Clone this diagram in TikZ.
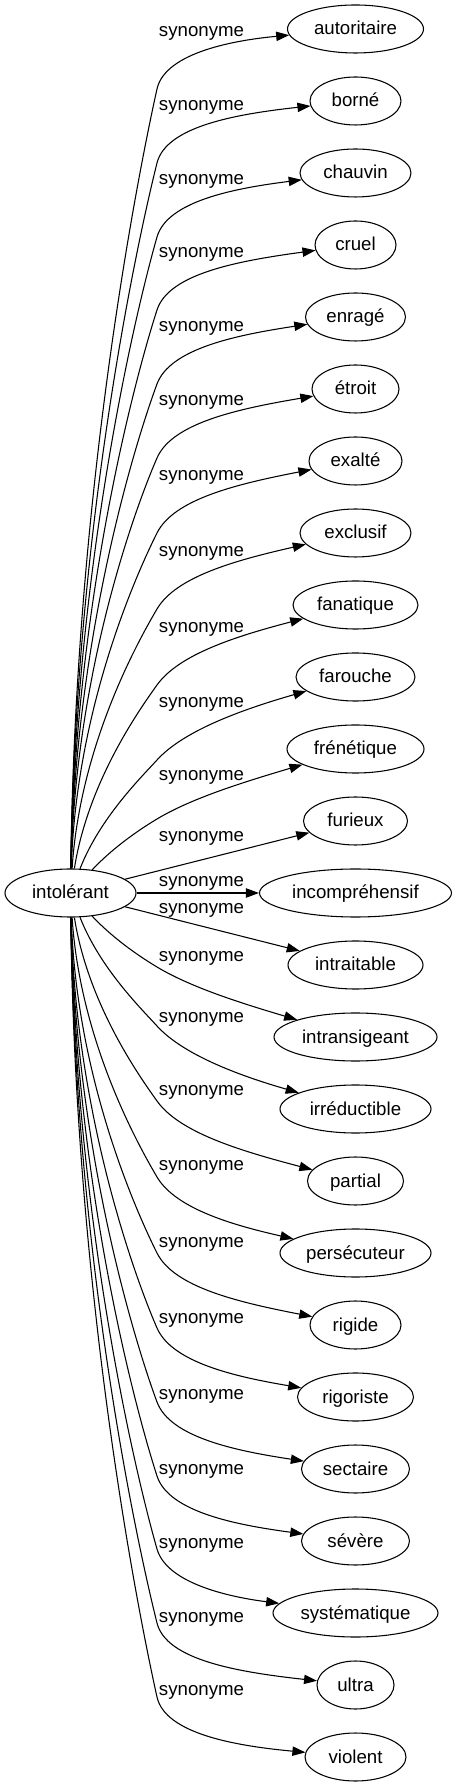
\documentclass[tikz,border=0pt]{standalone}
\usepackage{fontspec}
\setmainfont{Liberation Sans}
\usetikzlibrary{shapes.geometric,arrows.meta}
% #1 target, #2 sign (1 up / -1 down), #3 |Y| of bend point, #4 slope there, #5 x of first control, #6 offset of last control
\newcommand{\synedge}[6]{%
  \pgfmathsetmacro{\sehh}{#3-24}%
  \pgfmathsetmacro{\seLtwo}{0.12*\sehh+10}%
  \pgfmathsetmacro{\senrm}{sqrt(1+(#4)*(#4))}%
  \pgfmathsetmacro{\seAx}{157-\seLtwo/\senrm}%
  \pgfmathsetmacro{\seAy}{(#2)*(#3-\seLtwo*(#4)/\senrm)}%
  \pgfmathsetmacro{\seBx}{157+38/\senrm}%
  \pgfmathsetmacro{\seBy}{(#2)*(#3+38*(#4)/\senrm)}%
  \pgfmathsetmacro{\seCy}{(#2)*(24+0.47*\sehh)}%
  \pgfmathsetmacro{\seDy}{(#2)*(#3+#6)}%
  \pgfmathsetmacro{\sePy}{(#2)*(#3)}%
  \draw[syn] (src) .. controls (#5,\seCy) and (\seAx,\seAy) .. (157,\sePy) .. controls (\seBx,\seBy) and (237,\seDy) .. (#1);%
}
\begin{document}
\begin{tikzpicture}[x=0.75pt,y=0.75pt,
  ell/.style={draw, ellipse, inner sep=0pt, minimum height=36pt, line width=0.8pt,
    text height=11pt, text depth=2pt, font=\fontsize{14}{17}\selectfont},
  tnode/.style={ell, minimum width=#1*0.75pt},
  lab/.style={anchor=base, inner sep=0pt, font=\fontsize{14}{17}\selectfont},
  syn/.style={line width=0.8pt, -{Triangle[length=9.75pt,width=7pt]}}]
\useasboundingbox (0,893) rectangle (457,-894);
\node[tnode=131] (src) at (70.5,0) {intolérant};
\node[tnode=136] (t0) at (355.5,864) {autoritaire};
\node[tnode=91] (t1) at (355.5,792) {borné};
\node[tnode=111] (t2) at (355.5,720) {chauvin};
\node[tnode=81] (t3) at (355.5,648) {cruel};
\node[tnode=100] (t4) at (355.5,576) {enragé};
\node[tnode=87] (t5) at (355.5,504) {étroit};
\node[tnode=93] (t6) at (355.5,432) {exalté};
\node[tnode=111] (t7) at (355.5,360) {exclusif};
\node[tnode=125] (t8) at (355.5,288) {fanatique};
\node[tnode=119] (t9) at (355.5,216) {farouche};
\node[tnode=137] (t10) at (355.5,144) {frénétique};
\node[tnode=104] (t11) at (355.5,72) {furieux};
\node[tnode=192] (t12) at (355.5,0) {incompréhensif};
\node[tnode=135] (t13) at (355.5,-72) {intraitable};
\node[tnode=163] (t14) at (355.5,-144) {intransigeant};
\node[tnode=151] (t15) at (355.5,-216) {irréductible};
\node[tnode=96] (t16) at (355.5,-288) {partial};
\node[tnode=151] (t17) at (355.5,-360) {persécuteur};
\node[tnode=91] (t18) at (355.5,-432) {rigide};
\node[tnode=116] (t19) at (355.5,-504) {rigoriste};
\node[tnode=108] (t20) at (355.5,-576) {sectaire};
\node[tnode=108] (t21) at (355.5,-648) {sévère};
\node[tnode=165] (t22) at (355.5,-720) {systématique};
\node[tnode=77] (t23) at (355.5,-792) {ultra};
\node[tnode=101] (t24) at (355.5,-864) {violent};
\node[lab] (l0) at (201.5,856) {synonyme};
\node[lab] (l1) at (201.5,782) {synonyme};
\node[lab] (l2) at (201.5,708) {synonyme};
\node[lab] (l3) at (201.5,635) {synonyme};
\node[lab] (l4) at (201.5,561) {synonyme};
\node[lab] (l5) at (201.5,487) {synonyme};
\node[lab] (l6) at (201.5,412) {synonyme};
\node[lab] (l7) at (201.5,336) {synonyme};
\node[lab] (l8) at (201.5,260) {synonyme};
\node[lab] (l9) at (201.5,185) {synonyme};
\node[lab] (l10) at (201.5,112) {synonyme};
\node[lab] (l11) at (201.5,51) {synonyme};
\node[lab] (l12) at (201.5,6) {synonyme};
\node[lab] (l13) at (201.5,-21) {synonyme};
\node[lab] (l14) at (201.5,-69) {synonyme};
\node[lab] (l15) at (201.5,-129) {synonyme};
\node[lab] (l16) at (201.5,-202) {synonyme};
\node[lab] (l17) at (201.5,-277) {synonyme};
\node[lab] (l18) at (201.5,-354) {synonyme};
\node[lab] (l19) at (201.5,-430) {synonyme};
\node[lab] (l20) at (201.5,-506) {synonyme};
\node[lab] (l21) at (201.5,-581) {synonyme};
\node[lab] (l22) at (201.5,-655) {synonyme};
\node[lab] (l23) at (201.5,-729) {synonyme};
\node[lab] (l24) at (201.5,-802) {synonyme};
\synedge{t0}{1}{804}{4.5}{75}{49}
\synedge{t1}{1}{730}{4}{75}{49}
\synedge{t2}{1}{656}{3.5}{75}{49}
\synedge{t3}{1}{583}{3.1}{75}{49}
\synedge{t4}{1}{509}{2.7}{75}{49}
\synedge{t5}{1}{435}{2.3}{75}{49}
\synedge{t6}{1}{360}{2.0}{76}{49}
\synedge{t7}{1}{284}{1.7}{80}{49}
\synedge{t8}{1}{208}{1.4}{88}{49}
\synedge{t9}{1}{133}{1.1}{100}{49}
\synedge{t10}{1}{74}{0.6}{115}{35}
\draw[syn] (src) -- (t11);
\draw[syn] (src) -- (t12);
\draw[syn] (src) -- (t13);
\synedge{t14}{-1}{74}{0.6}{115}{35}
\synedge{t15}{-1}{133}{1.1}{100}{49}
\synedge{t16}{-1}{208}{1.4}{88}{49}
\synedge{t17}{-1}{284}{1.7}{80}{49}
\synedge{t18}{-1}{360}{2.0}{76}{49}
\synedge{t19}{-1}{435}{2.3}{75}{49}
\synedge{t20}{-1}{509}{2.7}{75}{49}
\synedge{t21}{-1}{583}{3.1}{75}{49}
\synedge{t22}{-1}{656}{3.5}{75}{49}
\synedge{t23}{-1}{730}{4}{75}{49}
\synedge{t24}{-1}{804}{4.5}{75}{49}
\end{tikzpicture}
\end{document}
